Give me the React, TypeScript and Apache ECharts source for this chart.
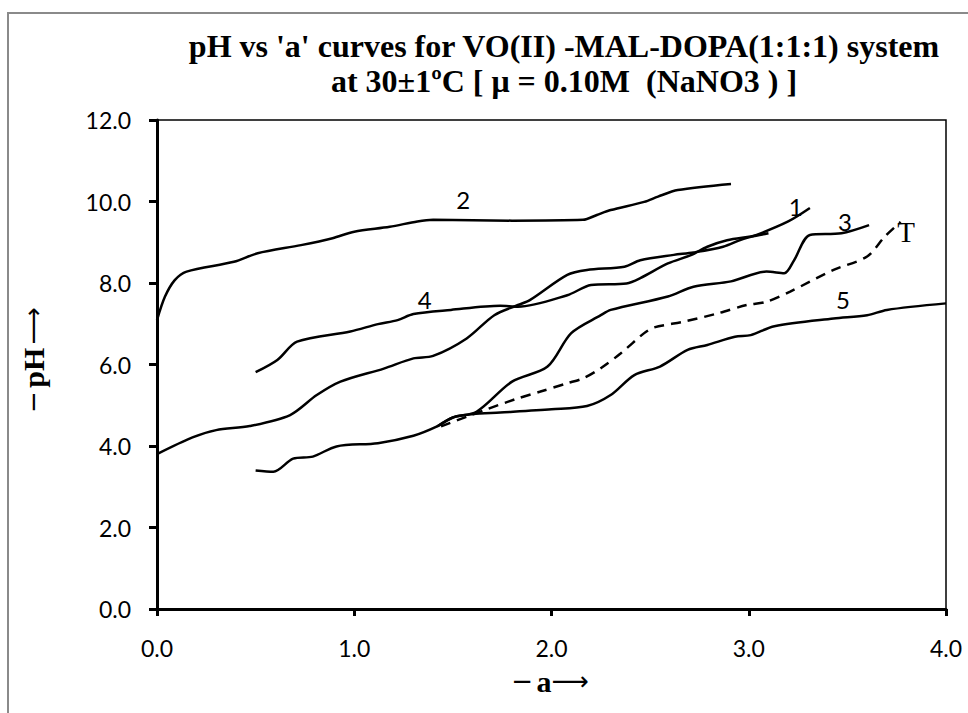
import React, { useEffect, useRef } from 'react';
import * as echarts from 'echarts';

// Curve "1"
const a1 = [0, 0.18, 0.30, 0.47, 0.675, 0.81, 0.93, 1.15, 1.30, 1.40, 1.57, 1.71, 1.83, 1.89, 2.08, 2.18, 2.37, 2.45, 2.62, 2.72, 2.87, 2.96, 3.04, 3.20, 3.31];
const pH1 = [3.80, 4.21, 4.39, 4.49, 4.76, 5.25, 5.58, 5.90, 6.15, 6.21, 6.64, 7.21, 7.46, 7.58, 8.20, 8.32, 8.40, 8.56, 8.69, 8.75, 8.89, 9.06, 9.18, 9.51, 9.84];
// Curve "2"
const a2 = [0, 0.04, 0.09, 0.15, 0.39, 0.51, 0.73, 0.89, 1.0, 1.18, 1.32, 1.40, 1.80, 2.16, 2.23, 2.30, 2.47, 2.54, 2.64, 2.91];
const pH2 = [7.09, 7.66, 8.07, 8.28, 8.52, 8.73, 8.93, 9.10, 9.26, 9.38, 9.51, 9.55, 9.53, 9.55, 9.67, 9.79, 9.99, 10.12, 10.28, 10.43];
// Curve "3"
const a3 = [0.50, 0.59, 0.69, 0.79, 0.91, 1.12, 1.30, 1.42, 1.50, 1.62, 1.80, 1.98, 2.10, 2.25, 2.30, 2.59, 2.72, 2.91, 3.09, 3.18, 3.23, 3.31, 3.47, 3.61];
const pH3 = [3.40, 3.37, 3.69, 3.74, 3.99, 4.07, 4.25, 4.48, 4.70, 4.84, 5.58, 5.95, 6.77, 7.21, 7.34, 7.67, 7.91, 8.04, 8.28, 8.24, 8.56, 9.18, 9.22, 9.42];
// Curve "4"
const a4 = [0.50, 0.61, 0.71, 0.98, 1.12, 1.22, 1.30, 1.49, 1.74, 1.83, 2.08, 2.20, 2.38, 2.45, 2.59, 2.71, 2.79, 2.89, 3.01, 3.10];
const pH4 = [5.81, 6.11, 6.56, 6.81, 6.99, 7.09, 7.24, 7.34, 7.44, 7.42, 7.70, 7.95, 7.99, 8.12, 8.48, 8.69, 8.89, 9.05, 9.14, 9.22];
// Curve "5"
const a5 = [1.42, 1.50, 1.60, 1.74, 2.00, 2.18, 2.30, 2.42, 2.55, 2.69, 2.79, 2.93, 3.01, 3.13, 3.43, 3.60, 3.70, 4.00];
const pH5 = [4.48, 4.70, 4.78, 4.82, 4.90, 4.98, 5.25, 5.74, 5.95, 6.36, 6.48, 6.68, 6.72, 6.94, 7.13, 7.21, 7.34, 7.50];
// Curve "T" (dashed)
const aT = [1.44, 1.66, 1.83, 1.94, 2.08, 2.16, 2.25, 2.35, 2.47, 2.52, 2.67, 2.84, 2.99, 3.09, 3.21, 3.43, 3.60, 3.69, 3.77];
const pHT = [4.48, 4.88, 5.17, 5.33, 5.54, 5.66, 5.91, 6.27, 6.77, 6.91, 7.05, 7.25, 7.46, 7.54, 7.79, 8.32, 8.65, 9.14, 9.50];

// Curve labels (placed in data coordinates)
const curveLabels = ['1', '2', '3', '4', '5', 'T'];
const labelA = [3.24, 1.555, 3.49, 1.36, 3.48, 3.80];
const labelPH = [9.86, 10.04, 9.49, 7.58, 7.58, 9.25];

const titleLines = [
  "pH vs 'a' curves for VO(II) -MAL-DOPA(1:1:1) system",
  'at 30±1ºC [ μ = 0.10M  (NaNO3 ) ]',
];

const pair = (xs: number[], ys: number[]) => xs.map((x, i) => [x, ys[i]]);

export default function App() {
  const ref = useRef<HTMLDivElement>(null);
  useEffect(() => {
    const chart = echarts.init(ref.current!, null, { renderer: 'svg' });
    const line = (name: string, xs: number[], ys: number[], dashed = false) => ({
      type: 'line',
      name,
      data: pair(xs, ys),
      smooth: 0.3,
      symbol: 'none',
      showSymbol: false,
      silent: true,
      z: 3,
      lineStyle: { color: '#000', width: 2.5, type: dashed ? [10, 7] : 'solid' },
    });
    const serif = '"Liberation Serif", "Times New Roman", serif';
    const sans = 'Lato, "Open Sans", sans-serif';
    const axisNameRich = {
      n: { fontFamily: '"DejaVu Sans", sans-serif', fontSize: 26, fontWeight: 'normal', fill: '#000' },
      b: { fontFamily: serif, fontSize: 30, fontWeight: 'bold', fill: '#000' },
    };
    chart.setOption({
      animation: false,
      backgroundColor: '#fff',
      grid: { left: 157, top: 120, right: 22, bottom: 104, show: true, borderColor: '#000', borderWidth: 1.5, backgroundColor: 'transparent' },
      xAxis: {
        type: 'value', min: 0, max: 4, interval: 1,
        axisLine: { show: true, onZero: false, lineStyle: { color: '#000', width: 3 } },
        axisTick: { show: true, length: 7, lineStyle: { color: '#000', width: 3 } },
        axisLabel: { color: '#000', fontSize: 23, fontFamily: sans, margin: 27, formatter: (v: number) => v.toFixed(1) },
        splitLine: { show: false },
      },
      yAxis: {
        type: 'value', min: 0, max: 12, interval: 2,
        axisLine: { show: true, onZero: false, lineStyle: { color: '#000', width: 3 } },
        axisTick: { show: true, length: 8, lineStyle: { color: '#000', width: 3 } },
        axisLabel: { color: '#000', fontSize: 23, fontFamily: sans, margin: 26, formatter: (v: number) => v.toFixed(1) },
        splitLine: { show: false },
      },
      series: [
        line('1', a1, pH1),
        line('2', a2, pH2),
        line('3', a3, pH3),
        line('4', a4, pH4),
        line('5', a5, pH5),
        line('T', aT, pHT, true),
        {
          type: 'scatter',
          silent: true,
          symbolSize: 1,
          itemStyle: { color: 'rgba(0,0,0,0)' },
          z: 5,
          data: labelA.map((x, i) => ({
            value: [x, labelPH[i]],
            name: curveLabels[i],
            label: curveLabels[i] === 'T'
              ? { fontFamily: serif, fontSize: 29, color: '#000' }
              : { fontFamily: sans, fontSize: 24, color: '#000' },
          })),
          label: {
            show: true, position: [0, 0], align: 'center', verticalAlign: 'middle',
            color: '#000', textBorderWidth: 0, opacity: 1,
            formatter: (p: any) => p.name,
          },
        },
      ],
      graphic: [
        { type: 'rect', shape: { x: 8, y: 13, width: 1000, height: 800 }, style: { fill: 'none', stroke: '#8a8a8a', lineWidth: 2 }, silent: true },
        { type: 'text', x: 564, y: 46, style: { text: titleLines[0], font: `bold 32px ${serif}`, fill: '#000', textAlign: 'center', textVerticalAlign: 'middle' } },
        { type: 'text', x: 564, y: 81, style: { text: titleLines[1], font: `bold 32px ${serif}`, fill: '#000', textAlign: 'center', textVerticalAlign: 'middle' } },
        { type: 'text', x: 550, y: 681, style: { text: '{n|−} {b|a}{n|⟶}', rich: axisNameRich, textAlign: 'center', textVerticalAlign: 'middle' } },
        { type: 'text', x: 33, y: 360, rotation: Math.PI / 2, style: { text: '{n|−} {b|pH} {n|⟶}', rich: axisNameRich, textAlign: 'center', textVerticalAlign: 'middle' } },
      ],
    });
    return () => chart.dispose();
  }, []);
  return <div ref={ref} style={{ position: 'fixed', left: 0, top: 0, width: 968, height: 713 }} />;
}
